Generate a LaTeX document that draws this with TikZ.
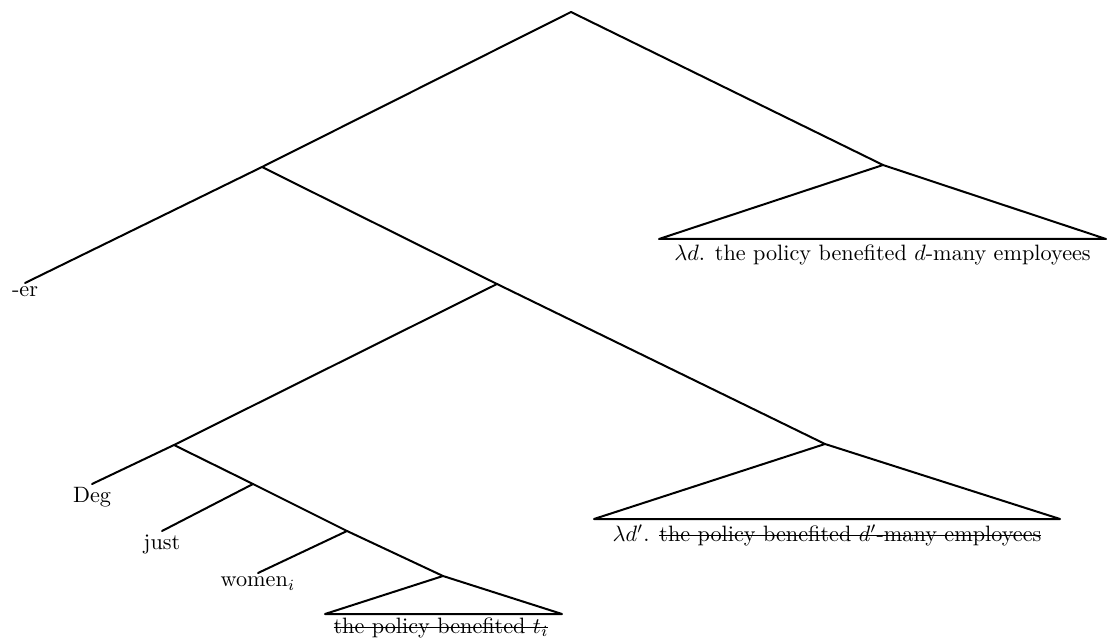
\documentclass[tikz,border=0pt]{standalone}
\usetikzlibrary{calc}
% struck-through text: a rule across the box at half x-height
\newcommand{\strk}[1]{\setbox0\hbox{#1}\rlap{\rule[0.55ex]{\wd0}{0.6pt}}\box0}
\begin{document}
\begin{tikzpicture}[x=0.45pt,y=-0.45pt,
  branch/.style={line width=0.9pt, line cap=round, line join=round},
  leaf/.style={anchor=north, inner sep=1.5pt, font=\normalsize},
  roof/.style={anchor=north, inner sep=2.5pt, font=\normalsize}]
\useasboundingbox (0,0) rectangle (1108,639);

% internal nodes
\coordinate (root) at (571,12);
\coordinate (A) at (262,167);
\coordinate (G) at (883,165);
\coordinate (B) at (497,284);
\coordinate (C) at (174,445);
\coordinate (F) at (825,444);
\coordinate (D) at (253,484);
\coordinate (W) at (347,531);
\coordinate (E) at (443,576);

% leaf ends
\coordinate (erend) at (25,283);
\coordinate (degend) at (92,484);
\coordinate (justend) at (162,531);
\coordinate (womenend) at (258,573);

% roof bases
\coordinate (GL) at (659,239);
\coordinate (GR) at (1106,239);
\coordinate (FL) at (594,519);
\coordinate (FR) at (1060,519);
\coordinate (EL) at (325,614);
\coordinate (ER) at (562,614);

% branches
\draw[branch] (root) -- (A) -- (erend);
\draw[branch] (root) -- (G);
\draw[branch] (A) -- (B) -- (F);
\draw[branch] (B) -- (C) -- (degend);
\draw[branch] (C) -- (D) -- (W) -- (E);
\draw[branch] (D) -- (justend);
\draw[branch] (W) -- (womenend);

% roofs
\draw[branch] (GL) -- (G) -- (GR) -- cycle;
\draw[branch] (FL) -- (F) -- (FR) -- cycle;
\draw[branch] (EL) -- (E) -- (ER) -- cycle;

% leaf labels
\node[leaf] (er) at (erend) {-er};
\node[leaf] (deg) at (degend) {Deg};
\node[leaf] (just) at (justend) {just};
\node[leaf] (women) at (womenend) {women$_i$};

% roof labels
\node[roof] (gtext) at ($(GL)!0.5!(GR)$) {$\lambda d$. the policy benefited $d$-many employees};
\node[roof] (ftext) at ($(FL)!0.5!(FR)$) {$\lambda d'$. \strk{the policy benefited $d'$-many employees}};
\node[roof, inner sep=1.5pt] (etext) at (441,614) {\strk{the policy benefited $t_i$}};
\end{tikzpicture}
\end{document}
